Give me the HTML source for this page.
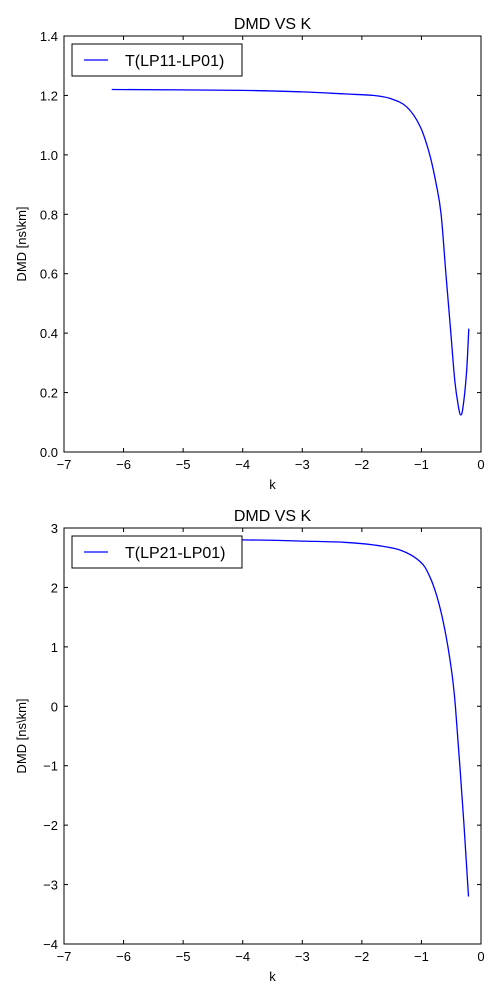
<!DOCTYPE html>
<html><head><meta charset="utf-8"><style>
body{margin:0;background:#fff}
svg text{font-family:"Liberation Sans",sans-serif}
</style></head><body>
<svg id="c" width="500" height="1000"></svg>
<script>
const xTicks=[-7,-6,-5,-4,-3,-2,-1,0];
const y1Ticks=[0.0,0.2,0.4,0.6,0.8,1.0,1.2,1.4];
const y2Ticks=[-4,-3,-2,-1,0,1,2,3];
const k1=[-6.2,-4,-3,-2.3,-1.81,-1.53,-1.25,-1.02,-0.86,-0.75,-0.67,-0.59,-0.51,-0.44,-0.38,-0.34,-0.30,-0.24,-0.205];
const dmd1=[1.22,1.217,1.212,1.205,1.2,1.19,1.162,1.095,1.0,0.9,0.8,0.6,0.41,0.24,0.153,0.125,0.153,0.276,0.415];
const k2=[-6.2,-4,-3,-2.3,-1.81,-1.36,-1.02,-0.86,-0.74,-0.63,-0.52,-0.43,-0.285,-0.21];
const dmd2=[2.81,2.8,2.78,2.76,2.715,2.63,2.435,2.18,1.85,1.4,0.78,0,-2,-3.2];
const svg=document.getElementById('c');const NS='http://www.w3.org/2000/svg';
function mk(t,a,p){const e=document.createElementNS(NS,t);for(const k in a)e.setAttribute(k,a[k]);(p||svg).appendChild(e);return e;}
function plot(top,yT,ks,vs,label,ylab,id){
  const L=64,R=481,T=top,B=top+416;
  const g=mk('g',{});
  
  
  const x=v=>L+(v-xTicks[0])/(xTicks[xTicks.length-1]-xTicks[0])*(R-L);
  const y=v=>B-(v-yT[0])/(yT[yT.length-1]-yT[0])*(B-T);
  const t=mk('text',{x:(L+R)/2,y:T-7,'text-anchor':'middle','font-size':16},g);t.textContent='DMD VS K';
  
  xTicks.forEach(v=>{const px=x(v);mk('line',{x1:px,x2:px,y1:B,y2:B-4,stroke:'#000'},g);mk('line',{x1:px,x2:px,y1:T,y2:T+4,stroke:'#000'},g);
    const tx=mk('text',{x:px,y:B+17,'text-anchor':'middle','font-size':13},g);tx.textContent=(v<0?'−':'')+Math.abs(v);
    });
  const dec=yT[1]-yT[0]<1;
  yT.forEach(v=>{const py=y(v);mk('line',{x1:L,x2:L+4,y1:py,y2:py,stroke:'#000'},g);mk('line',{x1:R,x2:R-4,y1:py,y2:py,stroke:'#000'},g);
    const s=dec?v.toFixed(1):String(Math.abs(v));const tx=mk('text',{x:L-6,y:py+5,'text-anchor':'end','font-size':13},g);tx.textContent=(v<0?'−':'')+s;
    });
  const xl=mk('text',{x:(L+R)/2,y:B+37,'text-anchor':'middle','font-size':13},g);xl.textContent='k';
  
  const yl=mk('text',{x:0,y:0,'text-anchor':'middle','font-size':13,transform:`translate(26,${(T+B)/2}) rotate(-90)`},g);yl.textContent=ylab;
  
  const P=ks.map((k,i)=>[x(k),y(vs[i])]);
  let d='M'+P[0][0].toFixed(1)+','+P[0][1].toFixed(1);
  for(let i=0;i<P.length-1;i++){const p0=P[Math.max(0,i-1)],p1=P[i],p2=P[i+1],p3=P[Math.min(P.length-1,i+2)];
    const c1=[p1[0]+(p2[0]-p0[0])/6,p1[1]+(p2[1]-p0[1])/6],c2=[p2[0]-(p3[0]-p1[0])/6,p2[1]-(p3[1]-p1[1])/6];
    d+=`C${c1[0].toFixed(1)},${c1[1].toFixed(1)} ${c2[0].toFixed(1)},${c2[1].toFixed(1)} ${p2[0].toFixed(1)},${p2[1].toFixed(1)}`;}
  const ln=mk('path',{d,fill:'none',stroke:'#0000ff','stroke-width':1.3,'stroke-linejoin':'round'},g);
  
  mk('rect',{x:L,y:T,width:R-L,height:B-T,fill:'none',stroke:'#000','stroke-width':1},g);
  const lg=mk('g',{},g);
  mk('rect',{x:72,y:T+8,width:170,height:32,fill:'#fff',stroke:'#000'},lg);
  mk('line',{x1:84,x2:108,y1:T+24,y2:T+24,stroke:'#0000ff','stroke-width':1.3},lg);
  const lt=mk('text',{x:125,y:T+30,'font-size':16},lg);lt.textContent=label;
  
}
plot(36,y1Ticks,k1,dmd1,'T(LP11-LP01)','DMD [ns\\km]','top-plot');
plot(528,y2Ticks,k2,dmd2,'T(LP21-LP01)','DMD [ns\\km]','bottom-plot');
</script>
</body></html>
